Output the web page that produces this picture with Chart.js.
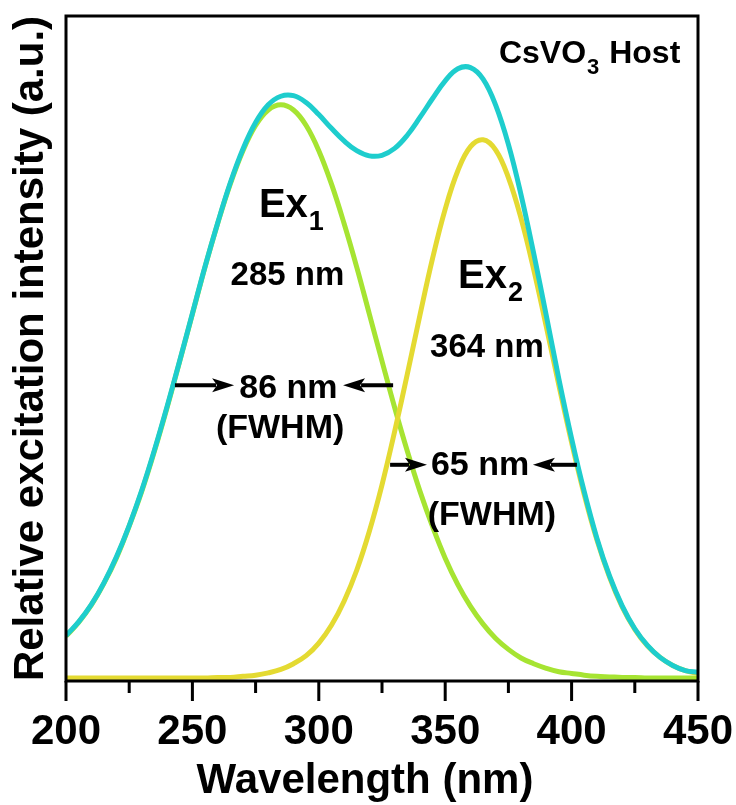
<!DOCTYPE html>
<html>
<head>
<meta charset="utf-8">
<script src="https://cdn.jsdelivr.net/npm/chart.js@4.4.1/dist/chart.umd.min.js"></script>
<style>
html, body { margin: 0; padding: 0; background: #fff; }
</style>
</head>
<body>
<canvas id="myChart" width="736" height="805"></canvas>
<script>
const wavelength = [200, 205, 210, 215, 220, 225, 230, 235, 240, 245,
  250, 255, 260, 265, 270, 275, 280, 285, 290, 295,
  300, 305, 310, 315, 320, 325, 330, 335, 340, 345,
  350, 355, 360, 365, 370, 375, 380, 385, 390, 395,
  400, 405, 410, 415, 420, 425, 430, 435, 440, 445, 450];

// measured excitation spectrum
const total = [0.074, 0.098, 0.128, 0.166, 0.212, 0.266, 0.328, 0.398, 0.474, 0.554,
  0.636, 0.718, 0.794, 0.864, 0.923, 0.969, 1.000, 1.015, 1.016, 1.004,
  0.983, 0.959, 0.937, 0.920, 0.911, 0.912, 0.924, 0.947, 0.978, 1.011,
  1.042, 1.063, 1.065, 1.045, 0.999, 0.931, 0.843, 0.741, 0.632, 0.521,
  0.418, 0.325, 0.244, 0.178, 0.126, 0.086, 0.057, 0.036, 0.022, 0.013, 0.010];

// Ex1 band (285 nm)
const ex1 = [0.073, 0.097, 0.127, 0.165, 0.210, 0.265, 0.326, 0.396, 0.472, 0.553,
  0.635, 0.717, 0.793, 0.862, 0.920, 0.964, 0.991, 1.000, 0.991, 0.964,
  0.920, 0.862, 0.793, 0.717, 0.635, 0.553, 0.472, 0.396, 0.326, 0.264,
  0.209, 0.163, 0.125, 0.094, 0.069, 0.050, 0.035, 0.025, 0.017, 0.011,
  0.008, 0.005, 0.003, 0.002, 0.001, 0.001, 0, 0, 0, 0, 0];

// Ex2 band (364 nm)
const ex2 = [0, 0, 0, 0, 0, 0, 0, 0, 0, 0,
  0, 0, 0.001, 0.001, 0.003, 0.005, 0.009, 0.015, 0.025, 0.039,
  0.061, 0.092, 0.134, 0.188, 0.256, 0.337, 0.430, 0.530, 0.633, 0.732,
  0.818, 0.885, 0.927, 0.939, 0.921, 0.873, 0.802, 0.713, 0.613, 0.510,
  0.411, 0.320, 0.241, 0.176, 0.124, 0.085, 0.056, 0.036, 0.022, 0.013, 0.008];

const majorTicks = [200, 250, 300, 350, 400, 450];
const minorTicks = [225, 275, 325, 375, 425];

const FONT = '"Liberation Sans", Arial, sans-serif';

// text notes, placed in data units
const notes = [
  {parts: [['CsVO'], ['3', 1], [' Host']], x: 443.0, y: 1.073, size: 32, align: 'right'},
  {parts: [['Ex'], ['1', 1]], x: 276.3, y: 0.805, size: 40, align: 'left'},
  {parts: [['285 nm']], x: 287.6, y: 0.686, size: 33, align: 'center'},
  {parts: [['Ex'], ['2', 1]], x: 355.1, y: 0.681, size: 40, align: 'left'},
  {parts: [['364 nm']], x: 366.5, y: 0.560, size: 33, align: 'center'},
  {parts: [['86 nm']], x: 288.0, y: 0.489, size: 34, align: 'center'},
  {parts: [['(FWHM)']], x: 284.7, y: 0.419, size: 34, align: 'center'},
  {parts: [['65 nm']], x: 363.8, y: 0.354, size: 34, align: 'center'},
  {parts: [['(FWHM)']], x: 368.5, y: 0.267, size: 34, align: 'center'}
];

const arrows = [
  {from: 243.1, to: 266.5, y: 0.511},
  {from: 329.4, to: 309.6, y: 0.511},
  {from: 328.2, to: 342.8, y: 0.372},
  {from: 402.1, to: 384.7, y: 0.372}
];

function toXY(ys) {
  return wavelength.map((w, i) => ({x: w, y: ys[i]}));
}

const decorPlugin = {
  id: 'decor',
  afterDraw(chart) {
    const ctx = chart.ctx;
    const xs = chart.scales.x, ys = chart.scales.y;
    const a = chart.chartArea;
    ctx.save();
    ctx.strokeStyle = '#000';
    ctx.lineWidth = 3;
    ctx.strokeRect(a.left, a.top, a.right - a.left, a.bottom - a.top);

    // outward ticks
    ctx.beginPath();
    majorTicks.forEach(v => {
      const px = xs.getPixelForValue(v);
      ctx.moveTo(px, a.bottom); ctx.lineTo(px, a.bottom + 20);
    });
    minorTicks.forEach(v => {
      const px = xs.getPixelForValue(v);
      ctx.moveTo(px, a.bottom); ctx.lineTo(px, a.bottom + 12);
    });
    ctx.stroke();

    // x axis title
    ctx.fillStyle = '#000';
    ctx.font = 'bold 42px ' + FONT;
    ctx.textAlign = 'center';
    ctx.textBaseline = 'alphabetic';
    ctx.fillText('Wavelength (nm)', a.left + 299, 793);

    // arrows
    ctx.lineWidth = 4;
    arrows.forEach(ar => {
      const x0 = xs.getPixelForValue(ar.from);
      const x1 = xs.getPixelForValue(ar.to);
      const y = ys.getPixelForValue(ar.y);
      const dir = x1 > x0 ? 1 : -1;
      const headLen = 22;
      ctx.beginPath();
      ctx.moveTo(x0, y); ctx.lineTo(x1 - dir * (headLen - 4), y);
      ctx.stroke();
      ctx.beginPath();
      ctx.moveTo(x1, y);
      ctx.lineTo(x1 - dir * headLen, y - 7);
      ctx.lineTo(x1 - dir * (headLen - 5), y);
      ctx.lineTo(x1 - dir * headLen, y + 7);
      ctx.closePath();
      ctx.fill();
    });

    // notes with subscripts
    ctx.textAlign = 'left';
    notes.forEach(n => {
      const subSize = Math.round(n.size * 0.68);
      const widths = n.parts.map(p => {
        ctx.font = 'bold ' + (p[1] ? subSize : n.size) + 'px ' + FONT;
        return ctx.measureText(p[0]).width + (p[1] ? 2 : 0);
      });
      const total = widths.reduce((s, w) => s + w, 0);
      let x = xs.getPixelForValue(n.x);
      const y = ys.getPixelForValue(n.y);
      if (n.align === 'center') x -= total / 2;
      if (n.align === 'right') x -= total;
      n.parts.forEach((p, i) => {
        ctx.font = 'bold ' + (p[1] ? subSize : n.size) + 'px ' + FONT;
        ctx.fillText(p[0], x + (p[1] ? 1 : 0), p[1] ? y + n.size * 0.33 : y);
        x += widths[i];
      });
    });
    ctx.restore();
  }
};

const myChart = new Chart(document.getElementById('myChart'), {
  type: 'line',
  data: {
    datasets: [{
      label: 'Total',
      data: toXY(total),
      borderColor: 'rgb(30, 205, 205)',
      borderWidth: 5
    }, {
      label: 'Ex2',
      data: toXY(ex2),
      borderColor: 'rgb(228, 218, 50)',
      borderWidth: 5
    }, {
      label: 'Ex1',
      data: toXY(ex1),
      borderColor: 'rgb(166, 228, 50)',
      borderWidth: 5
    }]
  },
  options: {
    responsive: false,
    animation: false,
    devicePixelRatio: 1,
    layout: { padding: { top: 16, right: 38, left: 0, bottom: 0 } },
    elements: {
      point: { radius: 0 },
      line: { tension: 0.4, fill: false }
    },
    plugins: { legend: { display: false }, tooltip: { enabled: false } },
    scales: {
      x: {
        type: 'linear',
        min: 200,
        max: 450,
        afterFit: s => { s.height = 124; s.paddingLeft = 0; s.paddingRight = 0; },
        grid: { display: false, drawTicks: false },
        border: { display: false },
        ticks: {
          stepSize: 50,
          autoSkip: false,
          maxRotation: 0,
          padding: 26,
          color: '#000',
          font: { family: FONT, size: 42, weight: 'bold' }
        },
        title: { display: false }
      },
      y: {
        min: -0.0052,
        max: 1.155,
        afterFit: s => { s.width = 66; },
        grid: { display: false, drawTicks: false },
        border: { display: false },
        ticks: { display: false },
        title: {
          display: true,
          text: 'Relative excitation intensity (a.u.)',
          color: '#000',
          padding: { top: 6, bottom: 0 },
          font: { family: FONT, size: 42, weight: 'bold' }
        }
      }
    }
  },
  plugins: [decorPlugin]
});
</script>
</body>
</html>
